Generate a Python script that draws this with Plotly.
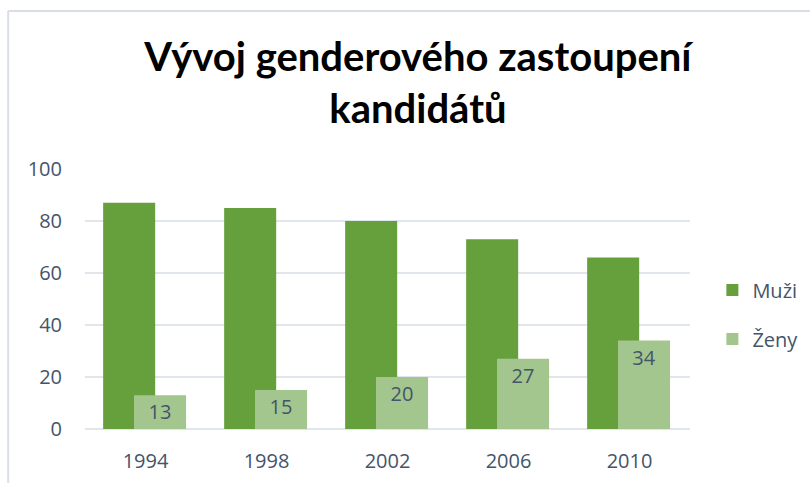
import plotly.graph_objects as go

years = ["1994", "1998", "2002", "2006", "2010"]
muzi = [87, 85, 80, 73, 66]
zeny = [13, 15, 20, 27, 34]

text_color = "#44546A"
grid_color = "#E1E5EC"

fig = go.Figure()
fig.add_trace(go.Bar(name="Muži", x=years, y=muzi, offset=-0.35, width=0.43,
                     legendgroup="m",
                     marker=dict(color="#65A03D", line_width=0)))
fig.add_trace(go.Bar(name="Ženy", x=years, y=zeny, offset=-0.095, width=0.43,
                     legendgroup="z",
                     marker=dict(color="#A3C68E", line_width=0),
                     text=zeny, textposition="inside", insidetextanchor="end",
                     textangle=0, textfont=dict(size=20, color=text_color)))

fig.update_layout(
    barmode="overlay",
    width=810, height=483,
    margin=dict(l=85, r=120, t=169, b=54, autoexpand=False),
    paper_bgcolor="white", plot_bgcolor="white",
    font=dict(family="Open Sans", size=20, color=text_color),
    title=dict(text="<b>Vývoj genderového zastoupení<br>kandidátů</b>",
               x=0.516, xanchor="center", y=0.852, yanchor="top",
               font=dict(family="Lato", size=40, color="black")),
    legend=dict(x=1.037, y=0.44, xanchor="left", yanchor="middle",
                font=dict(size=20, color=text_color), tracegroupgap=20,
                itemwidth=30),
    showlegend=True,
)
fig.update_xaxes(showgrid=False, showline=False, ticks="", automargin=False,
                 tickfont=dict(size=20, color=text_color), ticklabelstandoff=18)
fig.update_yaxes(range=[0, 100], dtick=20, showgrid=True, gridcolor=grid_color, gridwidth=1.5,
                 zeroline=True, zerolinecolor=grid_color, zerolinewidth=1.5, automargin=False,
                 tickfont=dict(size=20, color=text_color), ticklabelstandoff=22)

# chart frame (top and left edges)
fig.add_shape(type="line", xref="paper", yref="paper", x0=-0.127, x1=1.22, y0=1.608, y1=1.608,
              line=dict(color="#D9DEE6", width=2))
fig.add_shape(type="line", xref="paper", yref="paper", x0=-0.127, x1=-0.127, y0=1.608, y1=-0.3,
              line=dict(color="#D9DEE6", width=2))

fig.write_html("out.html", config={"displayModeBar": False},
               post_script="document.body.style.margin='0';document.body.style.overflow='hidden';")
